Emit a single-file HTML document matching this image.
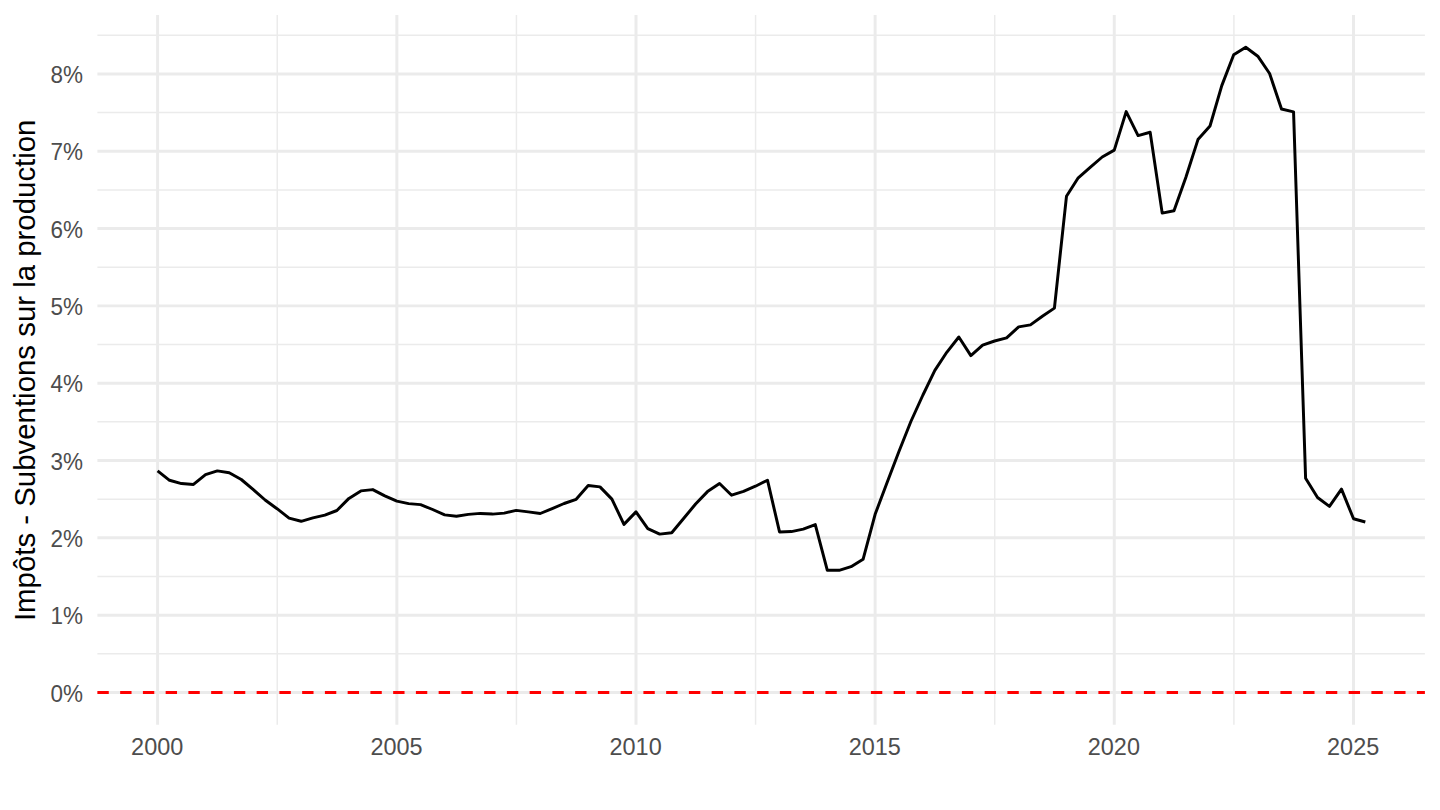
<!DOCTYPE html>
<html><head><meta charset="utf-8"><style>
html,body{margin:0;padding:0;background:#fff;}
svg{display:block;}
.ax{font-family:"Liberation Sans",sans-serif;font-size:24.44px;fill:#4D4D4D;}
.ti{font-family:"Liberation Sans",sans-serif;font-size:29.4px;fill:#000;}
</style></head><body>
<svg width="1440" height="810" viewBox="0 0 1440 810">
<rect width="1440" height="810" fill="#fff"/>
<line x1="97.4" x2="1424.9" y1="653.84" y2="653.84" stroke="#EBEBEB" stroke-width="1.48"/>
<line x1="97.4" x2="1424.9" y1="576.51" y2="576.51" stroke="#EBEBEB" stroke-width="1.48"/>
<line x1="97.4" x2="1424.9" y1="499.19" y2="499.19" stroke="#EBEBEB" stroke-width="1.48"/>
<line x1="97.4" x2="1424.9" y1="421.86" y2="421.86" stroke="#EBEBEB" stroke-width="1.48"/>
<line x1="97.4" x2="1424.9" y1="344.54" y2="344.54" stroke="#EBEBEB" stroke-width="1.48"/>
<line x1="97.4" x2="1424.9" y1="267.21" y2="267.21" stroke="#EBEBEB" stroke-width="1.48"/>
<line x1="97.4" x2="1424.9" y1="189.89" y2="189.89" stroke="#EBEBEB" stroke-width="1.48"/>
<line x1="97.4" x2="1424.9" y1="112.56" y2="112.56" stroke="#EBEBEB" stroke-width="1.48"/>
<line x1="97.4" x2="1424.9" y1="35.24" y2="35.24" stroke="#EBEBEB" stroke-width="1.48"/>
<line x1="277.23" x2="277.23" y1="15.1" y2="724.7" stroke="#EBEBEB" stroke-width="1.48"/>
<line x1="516.43" x2="516.43" y1="15.1" y2="724.7" stroke="#EBEBEB" stroke-width="1.48"/>
<line x1="755.57" x2="755.57" y1="15.1" y2="724.7" stroke="#EBEBEB" stroke-width="1.48"/>
<line x1="994.70" x2="994.70" y1="15.1" y2="724.7" stroke="#EBEBEB" stroke-width="1.48"/>
<line x1="1233.90" x2="1233.90" y1="15.1" y2="724.7" stroke="#EBEBEB" stroke-width="1.48"/>
<line x1="97.4" x2="1424.9" y1="692.50" y2="692.50" stroke="#EBEBEB" stroke-width="2.96"/>
<line x1="97.4" x2="1424.9" y1="615.17" y2="615.17" stroke="#EBEBEB" stroke-width="2.96"/>
<line x1="97.4" x2="1424.9" y1="537.85" y2="537.85" stroke="#EBEBEB" stroke-width="2.96"/>
<line x1="97.4" x2="1424.9" y1="460.52" y2="460.52" stroke="#EBEBEB" stroke-width="2.96"/>
<line x1="97.4" x2="1424.9" y1="383.20" y2="383.20" stroke="#EBEBEB" stroke-width="2.96"/>
<line x1="97.4" x2="1424.9" y1="305.88" y2="305.88" stroke="#EBEBEB" stroke-width="2.96"/>
<line x1="97.4" x2="1424.9" y1="228.55" y2="228.55" stroke="#EBEBEB" stroke-width="2.96"/>
<line x1="97.4" x2="1424.9" y1="151.23" y2="151.23" stroke="#EBEBEB" stroke-width="2.96"/>
<line x1="97.4" x2="1424.9" y1="73.90" y2="73.90" stroke="#EBEBEB" stroke-width="2.96"/>
<line x1="157.60" x2="157.60" y1="15.1" y2="724.7" stroke="#EBEBEB" stroke-width="2.96"/>
<line x1="396.86" x2="396.86" y1="15.1" y2="724.7" stroke="#EBEBEB" stroke-width="2.96"/>
<line x1="636.00" x2="636.00" y1="15.1" y2="724.7" stroke="#EBEBEB" stroke-width="2.96"/>
<line x1="875.13" x2="875.13" y1="15.1" y2="724.7" stroke="#EBEBEB" stroke-width="2.96"/>
<line x1="1114.27" x2="1114.27" y1="15.1" y2="724.7" stroke="#EBEBEB" stroke-width="2.96"/>
<line x1="1353.53" x2="1353.53" y1="15.1" y2="724.7" stroke="#EBEBEB" stroke-width="2.96"/>
<polyline points="157.60,470.90 169.52,480.30 181.43,483.60 193.48,484.40 205.53,474.70 217.32,470.90 229.24,472.80 241.28,479.50 253.33,489.60 265.12,500.00 277.04,508.70 289.08,518.10 301.13,521.30 312.92,517.90 324.84,515.10 336.88,510.50 348.93,498.40 360.85,490.90 372.77,489.60 384.82,495.90 396.86,501.10 408.65,503.60 420.57,504.60 432.62,509.50 444.67,514.90 456.45,516.20 468.37,514.40 480.42,513.40 492.47,514.10 504.25,513.10 516.17,510.40 528.22,511.90 540.27,513.50 552.18,508.60 564.10,503.50 576.15,499.30 588.20,485.50 599.98,486.90 611.90,499.10 623.95,524.40 636.00,511.90 647.79,528.70 659.70,534.10 671.75,532.70 683.80,518.30 695.59,504.00 707.50,491.60 719.55,483.50 731.60,495.20 743.52,491.40 755.43,486.20 767.48,480.20 779.53,531.90 791.32,531.60 803.24,529.10 815.28,524.60 827.33,570.30 839.12,570.30 851.04,566.70 863.08,559.30 875.13,514.30 886.92,483.00 898.84,451.80 910.88,421.50 922.93,395.00 934.85,370.40 946.77,352.30 958.82,337.00 970.86,355.60 982.65,345.20 994.57,341.00 1006.62,337.90 1018.67,326.90 1030.45,324.90 1042.37,316.30 1054.42,308.10 1066.47,196.30 1078.25,177.80 1090.17,167.40 1102.22,157.00 1114.27,150.10 1126.18,111.60 1138.10,135.60 1150.15,132.30 1162.20,213.10 1173.98,210.70 1185.90,177.30 1197.95,139.60 1210.00,126.00 1221.78,85.60 1233.70,54.70 1245.75,47.30 1257.80,56.20 1269.59,73.50 1281.50,109.00 1293.55,111.90 1305.60,478.30 1317.52,497.50 1329.43,506.40 1341.48,489.10 1353.53,518.80 1365.32,522.00" fill="none" stroke="#000" stroke-width="2.96" stroke-linejoin="round" stroke-linecap="butt"/>
<line x1="97.4" x2="1424.9" y1="692.5" y2="692.5" stroke="#FF0000" stroke-width="2.96" stroke-dasharray="11.375 11.375"/>
<text transform="translate(83.05,701.60) scale(0.92,1)" text-anchor="end" class="ax">0%</text>
<text transform="translate(83.05,624.27) scale(0.92,1)" text-anchor="end" class="ax">1%</text>
<text transform="translate(83.05,546.95) scale(0.92,1)" text-anchor="end" class="ax">2%</text>
<text transform="translate(83.05,469.62) scale(0.92,1)" text-anchor="end" class="ax">3%</text>
<text transform="translate(83.05,392.30) scale(0.92,1)" text-anchor="end" class="ax">4%</text>
<text transform="translate(83.05,314.98) scale(0.92,1)" text-anchor="end" class="ax">5%</text>
<text transform="translate(83.05,237.65) scale(0.92,1)" text-anchor="end" class="ax">6%</text>
<text transform="translate(83.05,160.33) scale(0.92,1)" text-anchor="end" class="ax">7%</text>
<text transform="translate(83.05,83.00) scale(0.92,1)" text-anchor="end" class="ax">8%</text>
<text transform="translate(157.20,755.2) scale(0.96,1)" text-anchor="middle" class="ax">2000</text>
<text transform="translate(396.46,755.2) scale(0.96,1)" text-anchor="middle" class="ax">2005</text>
<text transform="translate(635.60,755.2) scale(0.96,1)" text-anchor="middle" class="ax">2010</text>
<text transform="translate(874.73,755.2) scale(0.96,1)" text-anchor="middle" class="ax">2015</text>
<text transform="translate(1113.87,755.2) scale(0.96,1)" text-anchor="middle" class="ax">2020</text>
<text transform="translate(1353.13,755.2) scale(0.96,1)" text-anchor="middle" class="ax">2025</text>
<text transform="translate(35.2,370.3) rotate(-90)" text-anchor="middle" class="ti">Impôts - Subventions sur la production</text>
</svg></body></html>
